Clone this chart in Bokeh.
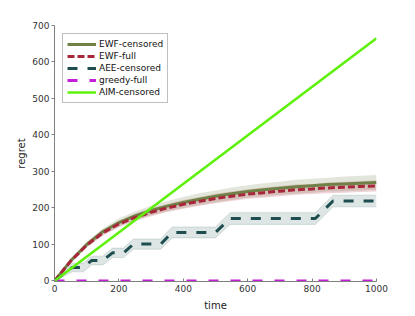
from bokeh.plotting import figure
from bokeh.models import ColumnDataSource, Legend, LegendItem, Range1d, FixedTicker
from bokeh.embed import file_html
from bokeh.resources import INLINE

# ---- data ----
t_ewf = [0, 50, 100, 150, 200, 250, 300, 350, 400, 450, 500, 550, 600, 650, 700, 750, 800, 850, 900, 950, 1000]
ewf_censored = [0, 55, 100, 135, 160, 178, 193, 205, 215, 224, 232, 239, 245, 250, 254, 258, 261, 264, 266, 268, 270]
ewf_censored_hw = [0, 4, 7, 9, 11, 12, 13, 14, 15, 16, 16, 17, 17, 18, 18, 19, 19, 19, 20, 20, 20]
ewf_full = [0, 54, 98, 132, 156, 174, 188, 200, 210, 218, 226, 232, 238, 242, 246, 250, 252, 255, 257, 259, 260]
ewf_full_hw = [0, 4, 6, 8, 9, 10, 11, 11, 12, 12, 13, 13, 13, 14, 14, 14, 14, 15, 15, 15, 15]

t_aee = [0, 55, 90, 115, 150, 180, 215, 245, 330, 365, 500, 545, 810, 865, 1000]
aee_censored = [0, 37, 37, 56, 56, 77, 77, 101, 101, 133, 133, 171, 171, 219, 219]
aee_hw = [0, 12, 12, 12, 12, 13, 13, 14, 14, 15, 15, 16, 16, 16, 16]

t_greedy = [0, 1000]
greedy_full = [0, 0]

t_aim = [0, 1000]
aim_censored = [0, 665]

x_ticks = [0, 200, 400, 600, 800, 1000]
y_ticks = [0, 100, 200, 300, 400, 500, 600, 700]

C_OLIVE = "#6f8146"
C_RED = "#a8263a"
C_TEAL = "#1f4e50"
C_MAG = "#c21fd6"
C_GREEN = "#5ff00c"
FONT = "DejaVu Sans"

p = figure(width=407, height=314, output_backend="svg", toolbar_location=None,
           x_range=Range1d(0, 1000), y_range=Range1d(-1.5, 700),
           min_border_left=54, min_border_right=31, min_border_top=25, min_border_bottom=33)
p.outline_line_color = None
p.xgrid.visible = False
p.ygrid.visible = False
p.background_fill_color = "white"

def band(t, y, hw, color, alpha, line_alpha=0.0):
    lo = [a - b for a, b in zip(y, hw)]
    hi = [a + b for a, b in zip(y, hw)]
    src = ColumnDataSource(dict(x=t, lo=lo, hi=hi))
    p.varea(x="x", y1="lo", y2="hi", source=src, fill_color=color, fill_alpha=alpha)
    if line_alpha > 0:
        p.line(x="x", y="lo", source=src, line_color=color, line_alpha=line_alpha, line_width=1)
        p.line(x="x", y="hi", source=src, line_color=color, line_alpha=line_alpha, line_width=1)

band(t_ewf, ewf_censored, ewf_censored_hw, C_OLIVE, 0.2)
band(t_ewf, ewf_full, ewf_full_hw, C_RED, 0.2)
band(t_aee, aee_censored, aee_hw, C_TEAL, 0.15, 0.15)

r1 = p.line(t_ewf, ewf_censored, line_color=C_OLIVE, line_width=3)
r2 = p.line(t_ewf, ewf_full, line_color=C_RED, line_width=3, line_dash="7 3")
r3 = p.line(t_aee, aee_censored, line_color=C_TEAL, line_width=3, line_dash="10 10")
r4 = p.line(t_greedy, greedy_full, line_color=C_MAG, line_width=3, line_dash="10 12")
r5 = p.line(t_aim, aim_censored, line_color=C_GREEN, line_width=2.5)

# axes
for ax in (p.xaxis[0], p.yaxis[0]):
    ax.axis_line_color = "#808080"
    ax.major_tick_line_color = "#808080"
    ax.minor_tick_line_color = None
    ax.major_label_text_font = FONT
    ax.major_label_text_font_size = "9px"
    ax.major_label_text_color = "#333333"
    ax.axis_label_text_font = FONT
    ax.axis_label_text_font_size = "10px"
    ax.axis_label_text_font_style = "normal"
    ax.axis_label_text_color = "#222222"

p.xaxis.ticker = FixedTicker(ticks=x_ticks)
p.yaxis.ticker = FixedTicker(ticks=y_ticks)
p.xaxis.axis_label = "time"
p.yaxis.axis_label = "regret"
p.xaxis.major_tick_in = 3
p.xaxis.major_tick_out = 0
p.yaxis.major_tick_in = 0
p.yaxis.major_tick_out = 3
p.xaxis.major_label_standoff = 3
p.yaxis.major_label_standoff = 2
p.xaxis.axis_label_standoff = 5
p.yaxis.axis_label_standoff = 2

legend = Legend(items=[
    LegendItem(label="EWF-censored", renderers=[r1]),
    LegendItem(label="EWF-full", renderers=[r2]),
    LegendItem(label="AEE-censored", renderers=[r3]),
    LegendItem(label="greedy-full", renderers=[r4]),
    LegendItem(label="AIM-censored", renderers=[r5]),
], location="top_left")
legend.margin = 8
legend.padding = 4
legend.spacing = 0
legend.glyph_width = 29
legend.glyph_height = 12
legend.label_height = 12
legend.label_standoff = 3
legend.label_text_font = FONT
legend.label_text_font_size = "9px"
legend.label_text_color = "#111111"
legend.border_line_color = "#808080"
legend.border_line_width = 1
legend.background_fill_alpha = 1.0
p.add_layout(legend)

open("out.html", "w").write(file_html(p, INLINE))
